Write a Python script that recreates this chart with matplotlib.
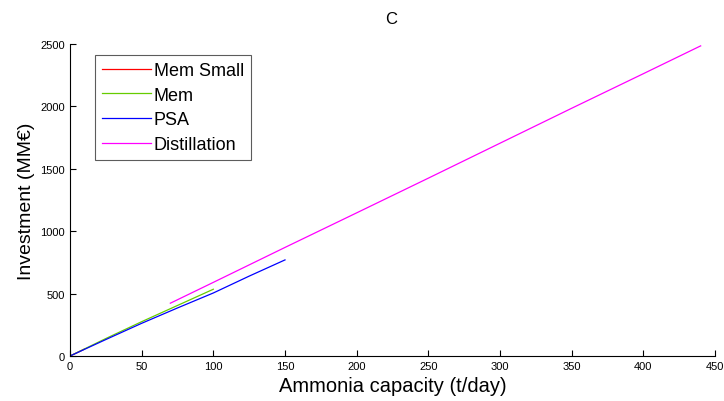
import numpy as np
import matplotlib.pyplot as plt

plt.rcParams['font.family'] = ['Liberation Sans', 'DejaVu Sans']

# --- data ---
mem_small_x = [0, 5, 10]
mem_small_y = [0, 27, 55]

mem_x = [0, 25, 50, 75, 100]
mem_y = [0, 140, 275, 405, 535]

psa_x = [0, 25, 50, 75, 100, 125, 150]
psa_y = [0, 132, 262, 385, 505, 640, 770]

dist_x = [70, 100, 150, 200, 250, 300, 350, 400, 440]
dist_y = [423, 590, 870, 1147, 1425, 1705, 1985, 2262, 2485]

fig = plt.figure(figsize=(7.24, 4.02), dpi=100)
ax = fig.add_axes([70 / 724, 45 / 402, 645 / 724, 312 / 402])

ax.plot(mem_small_x, mem_small_y, color='#ff0000', lw=0.9, label='Mem Small')
ax.plot(mem_x, mem_y, color='#66cc00', lw=0.9, label='Mem')
ax.plot(psa_x, psa_y, color='#0000ff', lw=0.9, label='PSA')
ax.plot(dist_x, dist_y, color='#ff00ff', lw=0.9, label='Distillation')

ax.set_xlim(0, 450)
ax.set_ylim(0, 2500)
ax.set_xticks(np.arange(0, 451, 50))
ax.set_yticks(np.arange(0, 2501, 500))
ax.tick_params(direction='in', labelsize=8, length=4)
ax.spines['top'].set_visible(False)
ax.spines['right'].set_visible(False)

ax.set_xlabel('Ammonia capacity (t/day)', fontsize=14.5, labelpad=4)
ax.set_ylabel('Investment (MM€)', fontsize=14, labelpad=4)
fig.text(391 / 724, 1 - 20 / 402, 'C', fontsize=12, ha='center', va='center')

leg = ax.legend(loc='upper left', bbox_to_anchor=(25 / 645, 1 - 11 / 312),
                fontsize=13, frameon=True, fancybox=False, handlelength=2.7,
                handletextpad=0.15, borderaxespad=0, labelspacing=0.42,
                borderpad=0.4)
leg.get_frame().set_edgecolor('#333333')
leg.get_frame().set_linewidth(0.8)

fig.savefig('out.png', dpi=100)
